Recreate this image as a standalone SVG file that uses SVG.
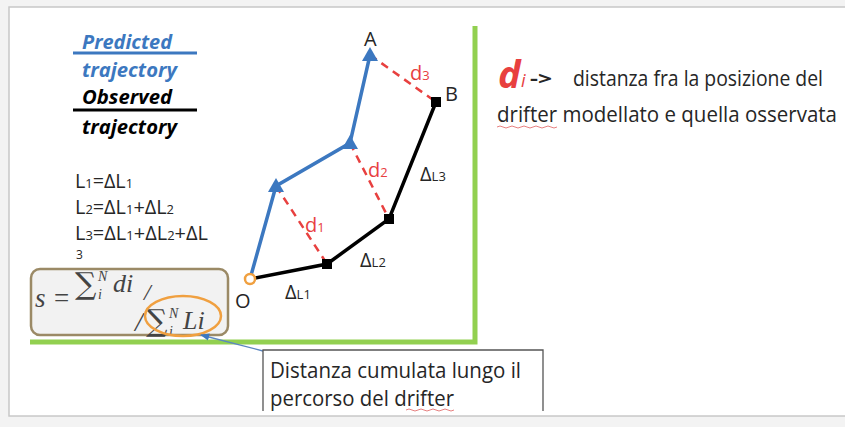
<svg xmlns="http://www.w3.org/2000/svg" width="845" height="427" viewBox="0 0 845 427">
<defs>
<style>
.t{font-family:"Open Sans","Liberation Sans",sans-serif;fill:#262626}
.m{font-family:"Liberation Serif","DejaVu Serif",serif;font-style:italic;fill:#444}
.red{fill:#e8403f}
.leg{font-family:"Open Sans","Liberation Sans",sans-serif;font-weight:bold;font-style:italic;font-size:19px}
.obs{fill:none;stroke:#000;stroke-width:3.5}
.pred{fill:none;stroke:#3c78c0;stroke-width:3.5}
.dist{fill:none;stroke:#e8403f;stroke-width:2.5;stroke-dasharray:8,6}
.sq{fill:#000}
.tri{fill:#3c78c0}
.sum{font-family:"DejaVu Serif",serif;fill:#444;font-size:30px}
</style>
<marker id="ah" viewBox="0 0 10 10" refX="9" refY="5" markerWidth="7" markerHeight="7" orient="auto">
<path d="M0,1 L10,5 L0,9 z" fill="#3c78c0"/>
</marker>
</defs>
<rect x="0" y="0" width="845" height="427" fill="#f3f3f3"/>
<rect x="9" y="7" width="850" height="409" fill="#fff" stroke="#c8c8c8" stroke-width="1.5"/>

<g id="frame">
<path d="M475,26 V342 H30" fill="none" stroke="#92d050" stroke-width="5"/>
</g>

<g id="legend">
<text class="leg" x="82" y="49" fill="#3c78c0" textLength="90" lengthAdjust="spacingAndGlyphs">Predicted</text>
<line x1="73" y1="53" x2="197" y2="53" stroke="#3c78c0" stroke-width="3"/>
<text class="leg" x="82" y="77" fill="#3c78c0" textLength="95" lengthAdjust="spacingAndGlyphs">trajectory</text>
<text class="leg" x="82" y="104" fill="#000" textLength="90" lengthAdjust="spacingAndGlyphs">Observed</text>
<line x1="73" y1="110" x2="197" y2="110" stroke="#000" stroke-width="3"/>
<text class="leg" x="82" y="134" fill="#000" textLength="95" lengthAdjust="spacingAndGlyphs">trajectory</text>
</g>

<g id="equations" class="t" font-size="20">
<text x="75" y="188" textLength="58" lengthAdjust="spacingAndGlyphs">L<tspan font-size="13">1</tspan>=ΔL<tspan font-size="13">1</tspan></text>
<text x="75" y="214" textLength="99" lengthAdjust="spacingAndGlyphs">L<tspan font-size="13">2</tspan>=ΔL<tspan font-size="13">1</tspan>+ΔL<tspan font-size="13">2</tspan></text>
<text x="75" y="240" textLength="133" lengthAdjust="spacingAndGlyphs">L<tspan font-size="13">3</tspan>=ΔL<tspan font-size="13">1</tspan>+ΔL<tspan font-size="13">2</tspan>+ΔL</text>
<text x="76" y="259" font-size="12">3</text>
</g>

<g id="formula">
<rect x="31" y="269" width="197" height="66" rx="9" fill="#f2f2f2" stroke="#9b8a66" stroke-width="2.5"/>
<text class="m" x="35" y="307" font-size="27">s =</text>
<text class="sum" x="75" y="294">∑</text>
<text class="m" x="98" y="281" font-size="14">N</text>
<text class="m" x="98" y="299" font-size="14">i</text>
<text class="m" x="113" y="292" font-size="26">di</text>
<text class="m" x="144" y="300" font-size="24" font-style="normal">/</text>
<text class="m" x="135" y="331" font-size="28" font-style="normal">/</text>
<text class="sum" x="146" y="331">∑</text>
<text class="m" x="169" y="318" font-size="14">N</text>
<text class="m" x="169" y="336" font-size="14">i</text>
<text class="m" x="183" y="329" font-size="26">Li</text>
<ellipse cx="183" cy="316" rx="38" ry="20" fill="none" stroke="#f0a040" stroke-width="2.5"/>
</g>

<g id="connectors">
<line x1="263" y1="351" x2="201" y2="335" stroke="#5b86c0" stroke-width="1.3" marker-end="url(#ah)"/>
</g>

<g id="callout">
<path d="M263,411 V350 H543 V411" fill="#fff" stroke="#555" stroke-width="1.3"/>
<text class="t" x="270" y="378" font-size="21" textLength="251" lengthAdjust="spacingAndGlyphs">Distanza cumulata lungo il</text>
<text class="t" x="270" y="406" font-size="21" textLength="184" lengthAdjust="spacingAndGlyphs">percorso del drifter</text>
<path d="M406,410 q3,-2 6,0 t6,0 t6,0 t6,0 t6,0 t6,0 t6,0 t6,0" fill="none" stroke="#e06060" stroke-width="0.8"/>
</g>

<g id="trajectories">
<polyline class="obs" points="250,279 327,264 389,219 436,102"/>
<polyline class="pred" points="250,279 276,186 350,143 370,55"/>
<line class="dist" x1="276" y1="186" x2="327" y2="264"/>
<line class="dist" x1="350" y1="143" x2="389" y2="219"/>
<line class="dist" x1="370" y1="55" x2="436" y2="102"/>
<rect class="sq" x="322" y="259" width="10" height="10"/>
<rect class="sq" x="384" y="214" width="10" height="10"/>
<rect class="sq" x="431" y="97" width="10" height="10"/>
<polygon class="tri" points="276,178 284,192 268,192"/>
<polygon class="tri" points="350,135 358,149 342,149"/>
<polygon class="tri" points="370,47 378,61 362,61"/>
<circle cx="250" cy="279" r="5" fill="#fff" stroke="#f0a040" stroke-width="2.5"/>
</g>

<g id="labels" class="t" font-size="20">
<text x="364" y="46">A</text>
<text x="445" y="101">B</text>
<text x="235" y="308">O</text>
<text class="red" x="305" y="232">d<tspan font-size="13">1</tspan></text>
<text class="red" x="368" y="177">d<tspan font-size="13">2</tspan></text>
<text class="red" x="410" y="80">d<tspan font-size="13">3</tspan></text>
<text x="285" y="299">Δ<tspan font-size="13">L1</tspan></text>
<text x="360" y="267">Δ<tspan font-size="13">L2</tspan></text>
<text x="420" y="181">Δ<tspan font-size="13">L3</tspan></text>
</g>

<g id="definition">
<text x="498" y="88" font-family="'Open Sans','Liberation Sans',sans-serif" font-weight="bold" font-style="italic" font-size="38" fill="#e8403f">d</text>
<text x="521" y="87" font-family="'Open Sans','Liberation Sans',sans-serif" font-style="italic" font-size="18" fill="#e8403f">i</text>
<text x="530" y="85" class="t" font-size="17" font-weight="bold" textLength="22" lengthAdjust="spacingAndGlyphs">-&gt;</text>
<text x="573" y="86" class="t" font-size="21" textLength="250" lengthAdjust="spacingAndGlyphs">distanza fra la posizione del</text>
<text x="497" y="122" class="t" font-size="21" textLength="340" lengthAdjust="spacingAndGlyphs">drifter modellato e quella osservata</text>
<path d="M497,127 q3,-2 6,0 t6,0 t6,0 t6,0 t6,0 t6,0 t6,0 t6,0 t6,0 t6,0" fill="none" stroke="#e06060" stroke-width="0.8"/>
</g>
</svg>
